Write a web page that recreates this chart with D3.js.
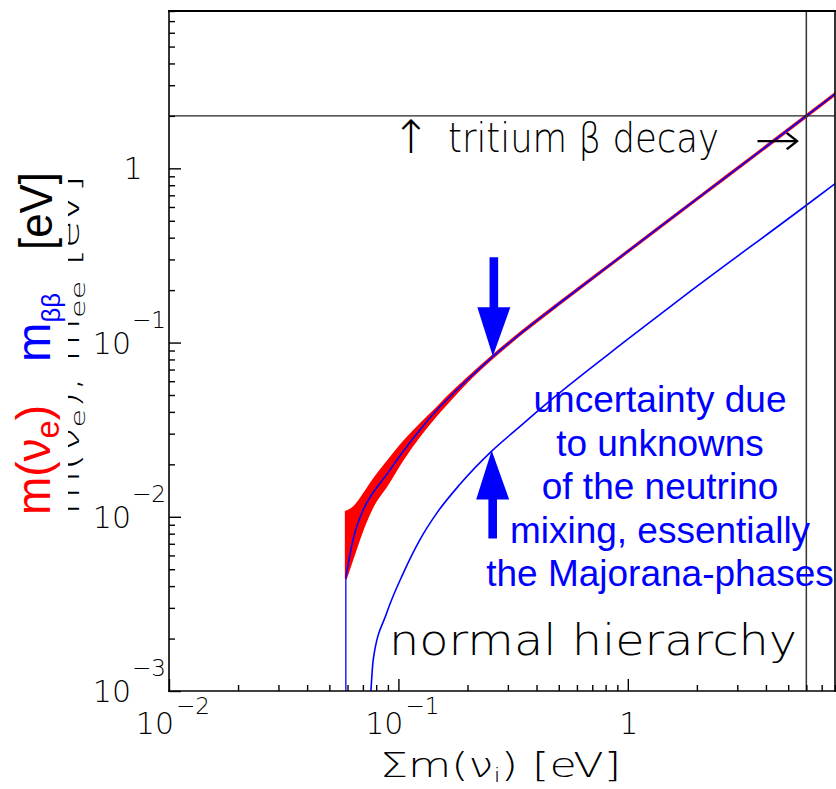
<!DOCTYPE html>
<html lang="en">
<head>
<meta charset="UTF-8">
<title>m(nu_e) and m_bb vs sum of neutrino masses</title>
<script src="https://d3js.org/d3.v7.min.js"></script>
<style>
  body { margin: 0; background: #fff; }
  svg { display: block; }
  .thin { font-family: "DejaVu Sans", sans-serif; font-weight: 200; fill: #000; }
  .sans { font-family: "Liberation Sans", Arial, sans-serif; }
</style>
</head>
<body>
<div id="chart"></div>
<script>
// values (normal hierarchy)
// sum of masses for the m(nu_e) band and the upper m_bb line
const sumBand = [0.059, 0.0636, 0.0703, 0.0777, 0.0889, 0.105, 0.124, 0.147, 0.168, 0.198, 0.258, 0.35, 0.5, 0.893, 2, 4, 8];
const mNuHi   = [0.0107, 0.0113, 0.0134, 0.0163, 0.0205, 0.0268, 0.0338, 0.0422, 0.0505, 0.0618, 0.0843, 0.1175, 0.169, 0.301, 0.674, 1.345, 2.70];
const mNuLo   = [0.0044, 0.0059, 0.0086, 0.0116, 0.0151, 0.0215, 0.0292, 0.0385, 0.0468, 0.0590, 0.0817, 0.1145, 0.165, 0.295, 0.660, 1.315, 2.64];
const mbbMax  = [0.0045, 0.0075, 0.0110, 0.0138, 0.0175, 0.0238, 0.0315, 0.0410, 0.0490, 0.0605, 0.0830, 0.116, 0.167, 0.298, 0.667, 1.33, 2.67];

// vertical drop of m_bb at the lowest sum
const sumFloor = [0.059, 0.059];
const mFloor   = [0.001, 0.0045];

// lower m_bb line (Majorana phase cancellation)
const sumLow = [0.0759, 0.0777, 0.0889, 0.105, 0.124, 0.147, 0.185, 0.255, 0.338, 0.414, 1.0, 1.74, 6, 8];
const mbbMin = [0.001, 0.00152, 0.0028, 0.00475, 0.00738, 0.0105, 0.0153, 0.0238, 0.0329, 0.0415, 0.1045, 0.183, 0.614, 0.817];

// tritium limits
const tritiumMass = 2;   // eV, horizontal line
const tritiumSum = 6;    // eV, vertical line

// arrows marking the spread
const arrowSum  = [0.258, 0.255];
const arrowMass = [0.0834, 0.0240];
const arrowDir  = ["down", "up"];

// tick labels
const xTickVals = [0.01, 0.1, 1];
const xTickBase = ["10", "10", "1"];
const xTickExp  = ["\u22122", "\u22121", ""];
const yTickVals = [0.001, 0.01, 0.1, 1];
const yTickBase = ["10", "10", "10", "1"];
const yTickExp  = ["\u22123", "\u22122", "\u22121", ""];

const noteLines = ["uncertainty due", "to unknowns", "of the neutrino", "mixing, essentially", "the Majorana-phases"];

const width = 836, height = 789;
const x = d3.scaleLog().domain([0.01, 8]).range([169, 835]);
const y = d3.scaleLog().domain([0.001, 8]).range([691, 11]);

const svg = d3.select("#chart").append("svg")
    .attr("width", width)
    .attr("height", height);

svg.append("clipPath").attr("id", "plot")
  .append("rect").attr("x", 169).attr("y", 11).attr("width", 666).attr("height", 680);

const plot = svg.append("g").attr("clip-path", "url(#plot)");

// m(nu_e) band
const band = sumBand.map((s, i) => ({ s: s, lo: mNuLo[i], hi: mNuHi[i] }));
plot.append("path")
    .datum(band)
    .attr("d", d3.area().x(d => x(d.s)).y0(d => y(d.lo)).y1(d => y(d.hi)).curve(d3.curveMonotoneX))
    .style("fill", "#ff0000")
    .style("stroke", "#ff0000")
    .style("stroke-width", 2);

const line = d3.line().x(d => x(d[0])).y(d => y(d[1])).curve(d3.curveMonotoneX);

plot.append("path")
    .datum(sumBand.map((s, i) => [s, mbbMax[i]]))
    .attr("d", line)
    .style("fill", "none").style("stroke", "#0000ff").style("stroke-width", 1.6);

plot.append("path")
    .datum(sumFloor.map((s, i) => [s, mFloor[i]]))
    .attr("d", d3.line().x(d => x(d[0])).y(d => y(d[1])))
    .style("fill", "none").style("stroke", "#0000ff").style("stroke-width", 1.3);

plot.append("path")
    .datum(sumLow.map((s, i) => [s, mbbMin[i]]))
    .attr("d", line)
    .style("fill", "none").style("stroke", "#0000ff").style("stroke-width", 1.6);

// tritium limit lines
svg.append("line")
    .attr("x1", x(0.01)).attr("x2", x(8))
    .attr("y1", y(tritiumMass)).attr("y2", y(tritiumMass))
    .style("stroke", "#222").style("stroke-width", 1.3);
svg.append("line")
    .attr("x1", x(tritiumSum)).attr("x2", x(tritiumSum))
    .attr("y1", y(8)).attr("y2", y(0.001))
    .style("stroke", "#333").style("stroke-width", 1.5);

// minor ticks per decade
const xMinor = [], yMinor = [];
[0.01, 0.1, 1].forEach(d => { for (let k = 2; k <= 9; k++) if (d * k <= 8) xMinor.push(d * k); });
[0.001, 0.01, 0.1, 1].forEach(d => { for (let k = 2; k <= 9; k++) if (d * k <= 8) yMinor.push(d * k); });

function ticks(axis, vals, size) {
    const g = svg.append("g").attr("transform", axis === "x" ? "translate(0,691)" : "translate(169,0)");
    const a = axis === "x" ? d3.axisBottom(x) : d3.axisLeft(y);
    g.call(a.tickValues(vals).tickSize(-size).tickFormat(""));
    g.select(".domain").remove();
    g.selectAll(".tick line").style("stroke", "#000").style("stroke-width", 1.4);
}
ticks("x", xTickVals, 12);
ticks("x", xMinor, 6);
ticks("y", yTickVals, 12);
ticks("y", yMinor, 6);

// frame
svg.append("line").attr("x1", 168).attr("x2", 836).attr("y1", 11).attr("y2", 11).style("stroke", "#000").style("stroke-width", 2);
svg.append("line").attr("x1", 169).attr("x2", 169).attr("y1", 10).attr("y2", 692).style("stroke", "#000").style("stroke-width", 1.6);
svg.append("line").attr("x1", 168).attr("x2", 836).attr("y1", 691).attr("y2", 691).style("stroke", "#000").style("stroke-width", 1.6);
svg.append("line").attr("x1", 835).attr("x2", 835).attr("y1", 10).attr("y2", 692).style("stroke", "#000").style("stroke-width", 1.6);

// tick labels
xTickVals.forEach((v, i) => {
    if (xTickExp[i]) {
        svg.append("text").attr("class", "thin").attr("x", x(v) + 5).attr("y", 734)
            .attr("text-anchor", "end").style("font-size", "30px").text(xTickBase[i]);
        svg.append("text").attr("class", "thin").attr("x", x(v) + 7).attr("y", 714)
            .style("font-size", "23px").text(xTickExp[i]);
    } else {
        svg.append("text").attr("class", "thin").attr("x", x(v) + 1).attr("y", 734)
            .attr("text-anchor", "middle").style("font-size", "30px").text(xTickBase[i]);
    }
});
yTickVals.forEach((v, i) => {
    if (yTickExp[i]) {
        svg.append("text").attr("class", "thin").attr("x", 131).attr("y", y(v) + 11)
            .attr("text-anchor", "end").style("font-size", "30px").text(yTickBase[i]);
        svg.append("text").attr("class", "thin").attr("x", 132).attr("y", y(v) - 15)
            .style("font-size", "23px").text(yTickExp[i]);
    } else {
        svg.append("text").attr("class", "thin").attr("x", 133).attr("y", y(v) + 11)
            .attr("text-anchor", "middle").style("font-size", "30px").text(yTickBase[i]);
    }
});

// x axis title
const xt = svg.append("text").attr("class", "thin").attr("x", 380).attr("y", 777)
    .attr("textLength", 241).attr("lengthAdjust", "spacingAndGlyphs")
    .style("font-size", "34px");
xt.append("tspan").text("\u03a3m(\u03bd");
xt.append("tspan").attr("dy", 5).style("font-size", "20px").text("i");
xt.append("tspan").attr("dy", -5).text(")  [eV]");

// original black y title, mostly hidden
const yo = svg.append("text").attr("class", "thin")
    .attr("transform", "translate(79,515) rotate(-90)")
    .attr("textLength", 340).attr("lengthAdjust", "spacingAndGlyphs")
    .style("font-size", "30px");
yo.append("tspan").text("m(\u03bd");
yo.append("tspan").attr("dy", 6).style("font-size", "20px").text("e");
yo.append("tspan").attr("dy", -6).text("), m");
yo.append("tspan").attr("dy", 6).style("font-size", "20px").text("ee");
yo.append("tspan").attr("dy", -6).text("  [eV]");
svg.append("rect").attr("x", 0).attr("y", 160).attr("width", 68).attr("height", 470).style("fill", "#fff");

// coloured y title
const yr = svg.append("text").attr("class", "sans")
    .attr("transform", "translate(50,515) rotate(-90)")
    .attr("textLength", 110).attr("lengthAdjust", "spacingAndGlyphs")
    .style("font-size", "48px").style("fill", "#ff0000");
yr.append("tspan").text("m(\u03bd");
yr.append("tspan").attr("dy", 9).style("font-size", "34px").text("e");
yr.append("tspan").attr("dy", -9).text(")");

const yb = svg.append("text").attr("class", "sans")
    .attr("transform", "translate(50,362) rotate(-90)")
    .attr("textLength", 69).attr("lengthAdjust", "spacingAndGlyphs")
    .style("font-size", "48px").style("fill", "#0000ff");
yb.append("tspan").text("m");
yb.append("tspan").attr("dy", 10).style("font-size", "26px").text("\u03b2\u03b2");

svg.append("text").attr("class", "sans")
    .attr("transform", "translate(52,250) rotate(-90)")
    .attr("textLength", 78).attr("lengthAdjust", "spacingAndGlyphs")
    .style("font-size", "46px").style("fill", "#000").text("[eV]");

// tritium label
svg.append("text").attr("class", "thin").attr("x", 411).attr("y", 153)
    .attr("text-anchor", "middle").style("font-size", "46px").text("\u2191");
svg.append("text").attr("class", "thin").attr("x", 448).attr("y", 152)
    .attr("textLength", 271).attr("lengthAdjust", "spacingAndGlyphs")
    .style("font-size", "40px").text("tritium \u03b2 decay");
svg.append("text").attr("class", "thin").attr("x", 754).attr("y", 155)
    .attr("textLength", 47).attr("lengthAdjust", "spacingAndGlyphs")
    .style("font-size", "44px").text("\u2192");

svg.append("text").attr("class", "thin").attr("x", 389).attr("y", 655)
    .attr("textLength", 408).attr("lengthAdjust", "spacingAndGlyphs")
    .style("font-size", "42px").text("normal hierarchy");

// annotation
noteLines.forEach((t, i) => {
    svg.append("text").attr("class", "sans").attr("x", 660).attr("y", 412 + i * 43.5)
        .attr("text-anchor", "middle").style("font-size", "37px").style("fill", "#0000ff").text(t);
});

// blue arrows
arrowSum.forEach((s, i) => {
    const tx = x(s), ty = y(arrowMass[i]);
    const sgn = arrowDir[i] === "down" ? -1 : 1;
    const len = arrowDir[i] === "down" ? 99 : 88, head = 49, hh = 16.5, sh = 4.3;
    const cx = tx + 1;
    const pts = [
        [tx, ty],
        [cx + hh, ty + sgn * head],
        [cx + sh, ty + sgn * head],
        [cx + sh, ty + sgn * len],
        [cx - sh, ty + sgn * len],
        [cx - sh, ty + sgn * head],
        [cx - hh, ty + sgn * head]
    ];
    svg.append("path").attr("d", "M" + pts.join("L") + "Z").style("fill", "#0000ff");
});
</script>
</body>
</html>
